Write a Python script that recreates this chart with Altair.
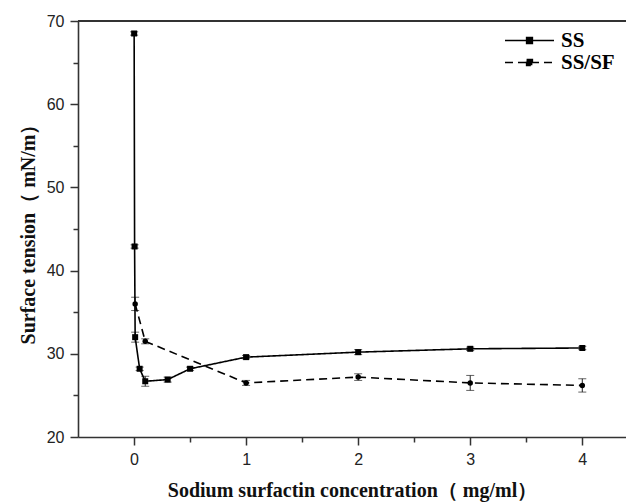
import altair as alt
import pandas as pd

# ---- data ----
series_names = ["SS", "SS/SF"]
ss_conc = [0.001, 0.005, 0.01, 0.05, 0.1, 0.3, 0.5, 1, 2, 3, 4]
ss_tension = [68.5, 42.9, 32.0, 28.2, 26.7, 26.9, 28.2, 29.6, 30.2, 30.6, 30.7]
ss_err = [0.2, 0.2, 0.6, 0.2, 0.6, 0.3, 0.2, 0.2, 0.3, 0.2, 0.2]
sf_conc = [0.01, 0.1, 1, 2, 3, 4]
sf_tension = [36.0, 31.5, 26.5, 27.2, 26.5, 26.2]
sf_err = [0.8, 0.3, 0.3, 0.4, 0.9, 0.8]
x_major = [0, 1, 2, 3, 4]
x_minor = [0.5, 1.5, 2.5, 3.5]
y_major = [20, 30, 40, 50, 60, 70]
y_minor = [25, 35, 45, 55, 65]

df = pd.concat([
    pd.DataFrame({"conc": ss_conc, "tension": ss_tension, "err": ss_err, "series": "SS"}),
    pd.DataFrame({"conc": sf_conc, "tension": sf_tension, "err": sf_err, "series": "SS/SF"}),
], ignore_index=True)
df["lo"] = df["tension"] - df["err"]
df["hi"] = df["tension"] + df["err"]

W, H = 548, 416
xscale = alt.Scale(domain=[-0.5, 4.39], nice=False, zero=False)
yscale = alt.Scale(domain=[20, 70], nice=False, zero=False)

LABEL_FONT = "Liberation Sans"
TITLE_FONT = "Liberation Serif"

x_axis = alt.Axis(orient="bottom", values=x_major, tickSize=8, tickWidth=1.5, tickColor="#333",
                  domainColor="#333", domainWidth=1.6, labelFont=LABEL_FONT, labelFontSize=16,
                  labelColor="#222", labelPadding=6, titleFont=TITLE_FONT, titleFontSize=20,
                  titleFontWeight="bold", titleColor="#111", titlePadding=13, grid=False,
                  labelFlush=False, title="Sodium surfactin concentration（ mg/ml）")
y_axis = alt.Axis(orient="left", values=y_major, tickSize=8, tickWidth=1.5, tickColor="#333",
                  domainColor="#333", domainWidth=1.6, labelFont=LABEL_FONT, labelFontSize=16,
                  labelColor="#222", labelPadding=6, titleFont=TITLE_FONT, titleFontSize=20,
                  titleFontWeight="bold", titleColor="#111", titlePadding=8, grid=False,
                  labelFlush=False, title="Surface tension（ mN/m）")

base = alt.Chart(df)
X = alt.X("conc:Q", scale=xscale, axis=None)
Y = alt.Y("tension:Q", scale=yscale, axis=None)

minor = base.mark_point(opacity=0).encode(
    x=alt.X("conc:Q", scale=xscale, axis=alt.Axis(orient="bottom", values=x_minor, labels=False, tickSize=5,
                                                 tickWidth=1.5, tickColor="#333", domain=False, grid=False,
                                                 title=None)),
    y=alt.Y("tension:Q", scale=yscale, axis=alt.Axis(orient="left", values=y_minor, labels=False, tickSize=5,
                                                    tickWidth=1.5, tickColor="#333", domain=False, grid=False,
                                                    title=None)),
)

legend_path = "M-3,0H3M-0.35,-0.35H0.35V0.35H-0.35Z"
lines = base.mark_line(color="black", strokeWidth=1.6).encode(
    x=alt.X("conc:Q", scale=xscale, axis=x_axis),
    y=alt.Y("tension:Q", scale=yscale, axis=y_axis),
    strokeDash=alt.StrokeDash("series:N", scale=alt.Scale(domain=series_names, range=[[1, 0], [8, 5]]),
                              legend=alt.Legend(orient="none", legendX=441, legendY=9, title=None,
                                                symbolType=legend_path, symbolSize=267,
                                                symbolStrokeWidth=1.6, symbolStrokeColor="black",
                                                symbolFillColor="black", labelFont=TITLE_FONT,
                                                labelFontWeight="bold", labelFontSize=21,
                                                labelColor="black", labelOffset=21, rowPadding=0)),
)

errs = base.mark_errorbar(ticks={"size": 8, "color": "#222"}, color="#222", thickness=1).encode(
    x=alt.X("conc:Q", scale=xscale, axis=None),
    y=alt.Y("lo:Q", scale=yscale, axis=None),
    y2="hi:Q",
)

pts_ss = base.transform_filter(alt.datum.series == "SS").mark_point(
    shape="square", filled=True, size=36, color="black", opacity=1).encode(x=X, y=Y)
pts_sf = base.transform_filter(alt.datum.series == "SS/SF").mark_point(
    shape="circle", filled=True, size=30, color="black", opacity=1).encode(x=X, y=Y)

top = alt.Chart(df).mark_rule(color="#333", strokeWidth=1.6).encode(
    x=alt.value(0), x2=alt.value(W), y=alt.value(0))

chart = alt.layer(minor, errs, lines, pts_ss, pts_sf, top).resolve_axis(
    x="independent", y="independent"
).properties(
    width=W, height=H,
    autosize=alt.AutoSizeParams(type="none"),
    padding={"left": 70, "top": 13, "right": 0, "bottom": 65},
).configure_view(stroke=None).configure(background="white")

chart.save("out.html", embed_options={"renderer": "svg", "actions": False})
